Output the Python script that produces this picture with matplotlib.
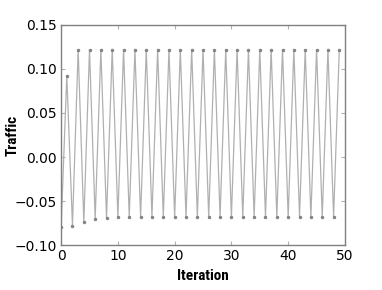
import numpy as np
import matplotlib
matplotlib.use('Agg')
import matplotlib.pyplot as plt

# iteration index and traffic value
iteration = list(range(50))
lows = [-0.079, -0.078, -0.074, -0.070, -0.069, -0.068, -0.068, -0.068, -0.068, -0.068,
        -0.068, -0.068, -0.068, -0.068, -0.068, -0.068, -0.068, -0.068, -0.068, -0.068,
        -0.068, -0.068, -0.068, -0.068, -0.068]
highs = [0.092, 0.122, 0.122, 0.122, 0.122, 0.122, 0.122, 0.122, 0.122, 0.122,
         0.122, 0.122, 0.122, 0.122, 0.122, 0.122, 0.122, 0.122, 0.122, 0.122,
         0.122, 0.122, 0.122, 0.122, 0.122]
traffic = [v for pair in zip(lows, highs) for v in pair]

fig = plt.figure(figsize=(3.82, 2.90), dpi=100)
ax = fig.add_axes([0.16, 0.155, 0.743, 0.759])

ax.plot(iteration, traffic, color='#b0b0b0', lw=0.9,
        marker='o', ms=1.5, mfc='#858585', mec='#858585')

ax.set_xlim(0, 50)
ax.set_ylim(-0.10, 0.15)
ax.set_xticks([0, 10, 20, 30, 40, 50])
ax.set_yticks([-0.10, -0.05, 0.00, 0.05, 0.10, 0.15])
ax.set_yticklabels(['\u22120.10', '\u22120.05', '0.00', '0.05', '0.10', '0.15'])

for s in ax.spines.values():
    s.set_color('#808080')
    s.set_linewidth(1.0)
ax.tick_params(direction='in', top=True, right=True, length=3,
               color='#b0b0b0', labelsize=10, pad=3)

lab_font = dict(family=['Roboto Condensed', 'Liberation Sans Narrow', 'Roboto', 'DejaVu Sans'],
                fontsize=11, fontweight='bold', fontstretch='condensed')
ax.set_xlabel('Iteration', **lab_font)
ax.set_ylabel('Traffic', **lab_font)
ax.xaxis.set_label_coords(0.5, -0.11)
ax.yaxis.set_label_coords(-0.145, 0.5)

fig.savefig('out.png', dpi=100)
